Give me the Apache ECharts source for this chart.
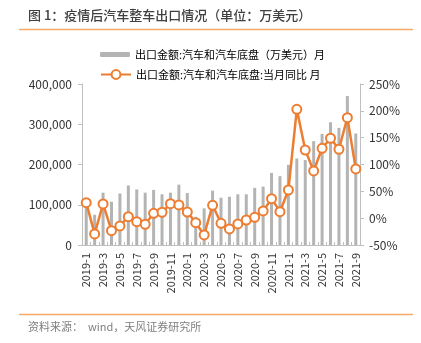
<!DOCTYPE html>
<html><head><meta charset="utf-8">
<script src="https://cdn.jsdelivr.net/npm/echarts@6/dist/echarts.min.js"></script>
<style>html,body{margin:0;padding:0;background:#fff}#c{width:421px;height:343px}</style>
</head><body><div id="c"></div>
<script>
const categories = ['2019-1','2019-2','2019-3','2019-4','2019-5','2019-6','2019-7','2019-8','2019-9','2019-10','2019-11','2019-12',
'2020-1','2020-2','2020-3','2020-4','2020-5','2020-6','2020-7','2020-8','2020-9','2020-10','2020-11','2020-12',
'2021-1','2021-2','2021-3','2021-4','2021-5','2021-6','2021-7','2021-8','2021-9'];
const exportValue = [103000, 75000, 130000, 107600, 128000, 148000, 138000, 130000, 137000, 126000, 130000, 150000,
129000, 70000, 91000, 135000, 117500, 120000, 126000, 126000, 142000, 145000, 179000, 171000,
199000, 215000, 211000, 258000, 276000, 305000, 291000, 370000, 277000];
const yoyPct = [28.9, -29.4, 26.5, -23.3, -14.5, 2.8, -6.5, -11.4, 9.1, 11, 27, 24.6,
11.5, -8.4, -31.3, 24, -9.5, -20.1, -10.8, -3.4, 1.6, 13.4, 36.3, 12.1,
52.5, 202.9, 127, 88, 130.2, 148.9, 128.4, 187.3, 91.7];
const barName = '出口金额:汽车和汽车底盘（万美元）月';
const lineName = '出口金额:汽车和汽车底盘:当月同比 月';

const font = '"Noto Sans CJK SC", "Noto Sans", sans-serif';
const chart = echarts.init(document.getElementById('c'), null, {renderer:'canvas'});
chart.setOption({
  animation: false,
  textStyle: {fontFamily: font},
  graphic: [
    {type:'text', left:28, top:9, style:{text:'图 1：疫情后汽车整车出口情况（单位：万美元）', font:'500 13px ' + font, fill:'#404040'}},
    {type:'line', shape:{x1:19, y1:29.5, x2:413, y2:29.5}, style:{stroke:'#f6a964', lineWidth:1.5}},
    {type:'line', shape:{x1:19, y1:314.5, x2:413, y2:314.5}, style:{stroke:'#f6a964', lineWidth:1.5}},
    {type:'text', left:28, top:321, style:{text:'资料来源：  wind，天风证券研究所', font:'11px ' + font, fill:'#7f7f7f'}}
  ],
  legend: [
    {data:[barName], left:95, top:44, itemWidth:30, itemHeight:5, textStyle:{fontSize:11, color:'#000', fontFamily:font}, itemGap:0},
    {data:[lineName], left:95, top:64, itemWidth:30, itemHeight:11, textStyle:{fontSize:11, color:'#000', fontFamily:font}}
  ],
  grid: {left:82, right:61, top:84, bottom:98, containLabel:false},
  xAxis: {
    type:'category', data:categories,
    axisLine:{lineStyle:{color:'#bfbfbf', width:1}},
    axisTick:{show:true, inside:true, length:3, interval:0, lineStyle:{color:'#bfbfbf'}},
    axisLabel:{interval:1, rotate:90, fontSize:11, color:'#333', margin:8, fontFamily:font}
  },
  yAxis: [
    {type:'value', min:0, max:400000, interval:100000,
     axisLine:{show:true, lineStyle:{color:'#bfbfbf'}},
     axisTick:{show:true, length:4, lineStyle:{color:'#bfbfbf'}},
     splitLine:{show:false},
     axisLabel:{fontSize:12, color:'#333', margin:10, fontFamily:font}},
    {type:'value', min:-50, max:250, interval:50,
     axisLine:{show:true, lineStyle:{color:'#bfbfbf'}},
     axisTick:{show:true, length:4, lineStyle:{color:'#bfbfbf'}},
     splitLine:{show:false},
     axisLabel:{fontSize:12, color:'#333', margin:9, formatter:'{value}%', fontFamily:font}}
  ],
  series: [
    {name:barName, type:'bar', data:exportValue, barWidth:3, itemStyle:{color:'#b4b4b4'}},
    {name:lineName, type:'line', yAxisIndex:1, data:yoyPct, symbol:'circle', symbolSize:9, showAllSymbol:true,
     lineStyle:{color:'#ed7d31', width:2.5},
     itemStyle:{color:'#fff', borderColor:'#ed7d31', borderWidth:2}, z:5}
  ]
});
</script></body></html>
